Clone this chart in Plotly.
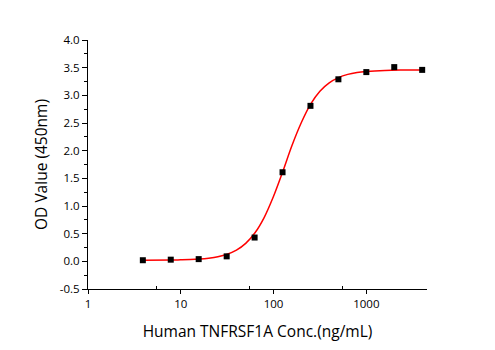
import plotly.graph_objects as go

# measured points
conc = [3.9, 7.8, 15.6, 31.25, 62.5, 125, 250, 500, 1000, 2000, 4000]
od = [0.02, 0.03, 0.04, 0.09, 0.43, 1.61, 2.81, 3.29, 3.42, 3.51, 3.46]

# fitted curve
curve_x = [3.98, 7.94, 10.0, 12.6, 15.8, 20.0, 25.1, 31.6, 39.8, 50.1, 63.1, 79.4,
           100, 126, 158, 200, 251, 316, 398, 501, 631, 794, 1000, 1585, 2512, 3981]
curve_y = [0.021, 0.024, 0.027, 0.032, 0.041, 0.057, 0.083, 0.128, 0.202, 0.324,
           0.516, 0.796, 1.176, 1.626, 2.094, 2.514, 2.842, 3.075, 3.226, 3.321,
           3.379, 3.413, 3.432, 3.451, 3.457, 3.459]

x_ticks = [1, 10, 100, 1000]
y_ticks = [-0.5, 0.0, 0.5, 1.0, 1.5, 2.0, 2.5, 3.0, 3.5, 4.0]

FONT = "Open Sans"

fig = go.Figure()
fig.add_trace(go.Scatter(x=curve_x, y=curve_y, mode="lines",
                         line=dict(color="#ff0000", width=1.5, shape="spline"),
                         showlegend=False, hoverinfo="skip"))
fig.add_trace(go.Scatter(x=conc, y=od, mode="markers",
                         marker=dict(symbol="square", size=6, color="#000000"),
                         showlegend=False))

fig.update_layout(
    width=495, height=350,
    margin=dict(l=88, r=68, t=40, b=58),
    paper_bgcolor="white", plot_bgcolor="white",
    font=dict(family=FONT, color="#000000"),
    xaxis=dict(type="log", range=[0, 3.654],
               tickvals=x_ticks, ticktext=[str(v) for v in x_ticks],
               ticks="outside", ticklen=4, tickwidth=1, tickcolor="#000",
               showline=True, linecolor="#000", linewidth=1,
               showgrid=False, zeroline=False,
               tickfont=dict(size=11.5, family=FONT),
               minor=dict(tickvals=[5.5, 55, 550], ticks="inside", ticklen=3,
                          tickcolor="#000", showgrid=False),
               title=dict(text="Human TNFRSF1A Conc.(ng/mL)",
                          font=dict(size=15.5, family=FONT), standoff=16)),
    yaxis=dict(range=[-0.5, 4.0], tickvals=y_ticks,
               ticktext=[f"{v:.1f}" for v in y_ticks],
               ticks="outside", ticklen=5, tickwidth=1, tickcolor="#000",
               showline=True, linecolor="#000", linewidth=1,
               showgrid=False, zeroline=False,
               tickfont=dict(size=11.5, family=FONT),
               minor=dict(dtick=0.25, ticks="outside", ticklen=3,
                          tickcolor="#000", showgrid=False),
               title=dict(text="OD Value (450nm)",
                          font=dict(size=15.5, family=FONT), standoff=8)),
)

fig.write_html("out.html")
